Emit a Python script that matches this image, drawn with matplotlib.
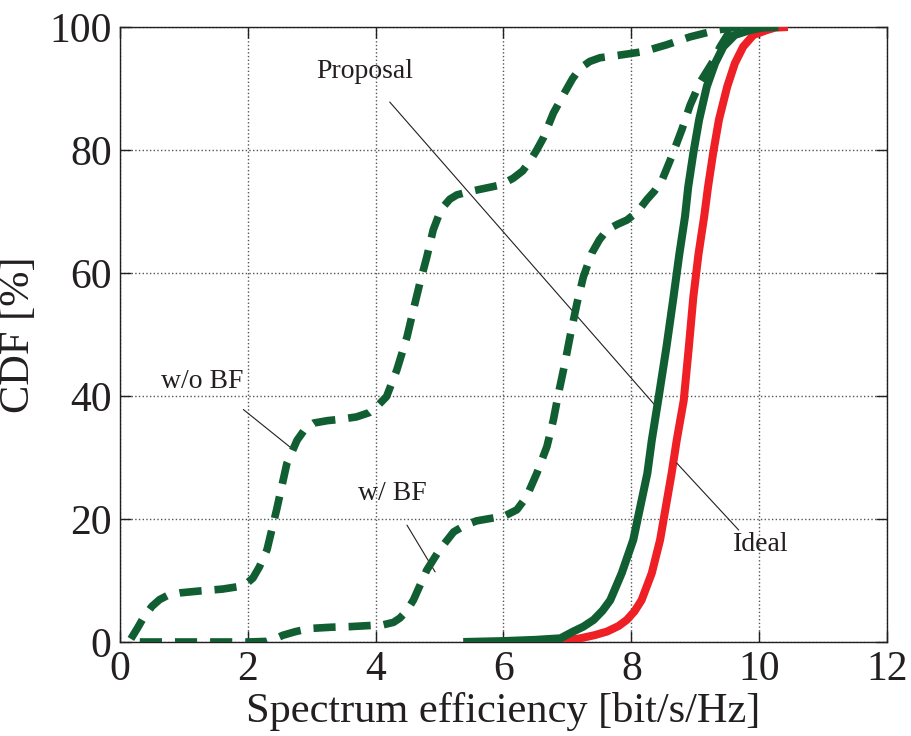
import matplotlib
matplotlib.use("Agg")
import matplotlib.pyplot as plt

plt.rcParams['font.family'] = ['Liberation Serif', 'DejaVu Serif']

# ---- data ----
wo_bf_x = [0.17, 0.27, 0.37, 0.50, 0.62, 0.75, 0.95, 1.25, 1.60, 1.85, 1.98, 2.08, 2.18, 2.30,
           2.45, 2.61, 2.77, 2.90, 3.03, 3.25, 3.44, 3.70, 3.90, 4.02, 4.17, 4.33, 4.49, 4.59,
           4.69, 4.80, 4.90, 4.98, 5.06, 5.16, 5.27, 5.45, 5.63, 5.95, 6.15, 6.30, 6.42, 6.52,
           6.62, 6.78, 6.96, 7.08, 7.20, 7.35, 7.51, 7.80, 8.19, 8.55, 8.92, 9.34, 9.60, 9.85]
wo_bf_y = [0.5, 2.2, 4.0, 5.8, 6.9, 7.6, 8.0, 8.3, 8.6, 9.0, 9.5, 10.4, 12.2, 15.0,
           21.5, 29.0, 32.8, 34.7, 35.6, 36.0, 36.2, 36.6, 37.3, 38.3, 39.9, 44.2, 49.6, 54.0,
           58.3, 62.6, 67.0, 69.2, 70.8, 72.0, 72.7, 73.2, 73.6, 74.3, 75.4, 76.6, 78.3, 80.0,
           81.9, 86.0, 89.4, 91.6, 93.3, 94.4, 95.0, 95.4, 96.0, 97.1, 98.4, 99.5, 99.9, 100.0]

w_bf_x = [0.31, 1.0, 2.0, 2.30, 2.42, 2.55, 2.75, 2.97, 3.30, 3.60, 4.12, 4.28, 4.38, 4.48,
          4.59, 4.80, 5.00, 5.22, 5.40, 5.58, 5.80, 6.00, 6.21, 6.36, 6.52, 6.68, 6.78, 6.86,
          6.96, 7.04, 7.15, 7.25, 7.38, 7.50, 7.62, 7.78, 7.93, 8.10, 8.24, 8.36, 8.48, 8.63,
          8.79, 8.92, 9.08, 9.26, 9.39, 9.55, 9.70, 9.90]
w_bf_y = [0.0, 0.0, 0.0, 0.1, 0.5, 1.1, 1.7, 2.2, 2.4, 2.5, 2.8, 3.2, 3.9, 5.0,
          6.8, 11.7, 15.0, 17.9, 19.0, 19.7, 20.1, 20.4, 21.5, 23.6, 27.4, 31.8, 36.1, 40.4,
          45.3, 49.6, 55.1, 59.4, 63.2, 65.4, 67.0, 67.9, 68.6, 70.0, 71.9, 73.3, 75.1, 78.9,
          83.3, 87.3, 91.1, 94.1, 96.8, 99.5, 99.8, 100.0]

prop_x = [5.37, 6.00, 6.50, 6.89, 7.09, 7.25, 7.41, 7.55, 7.67, 7.85, 8.03, 8.14, 8.25, 8.32,
          8.42, 8.55, 8.66, 8.75, 8.84, 8.89, 8.97, 9.06, 9.18, 9.31, 9.44, 9.62, 9.86, 10.05,
          10.30]
prop_y = [0.0, 0.15, 0.35, 0.6, 1.7, 2.5, 3.6, 5.1, 6.8, 11.2, 16.6, 22.0, 27.4, 32.8,
          39.3, 48.0, 56.1, 63.0, 69.2, 74.0, 79.5, 84.9, 90.3, 94.1, 96.8, 98.7, 99.5, 99.9,
          100.0]

ideal_x = [6.35, 6.89, 7.20, 7.42, 7.62, 7.80, 7.93, 8.05, 8.16, 8.32, 8.45, 8.54, 8.63, 8.71,
           8.82, 8.90, 8.97, 9.05, 9.14, 9.20, 9.28, 9.37, 9.50, 9.62, 9.75, 9.91, 10.12, 10.25,
           10.45]
ideal_y = [0.0, 0.1, 0.6, 1.1, 1.7, 2.6, 3.6, 5.0, 6.8, 11.2, 16.6, 22.0, 27.4, 32.8,
           39.3, 48.0, 56.1, 63.0, 69.2, 74.0, 79.5, 84.9, 90.3, 94.1, 96.8, 98.7, 99.5, 99.9,
           100.0]

x_ticks = [0, 2, 4, 6, 8, 10, 12]
y_ticks = [0, 20, 40, 60, 80, 100]

green = '#115e32'
red = '#ee2026'
ink = '#231f20'

fig = plt.figure(figsize=(9.12, 7.36), dpi=100)
ax = fig.add_axes([120 / 912, (736 - 642) / 736, 767 / 912, 615 / 736])

ax.plot(ideal_x, ideal_y, color=red, lw=5.8, solid_capstyle='butt',
        solid_joinstyle='round', zorder=3)
ax.plot(prop_x, prop_y, color=green, lw=5.8, solid_capstyle='butt',
        solid_joinstyle='round', zorder=4)
ax.plot(w_bf_x, w_bf_y, color=green, lw=5.5, dashes=(2.9, 1.7), dash_capstyle='butt',
        dash_joinstyle='round', zorder=4)
ax.plot(wo_bf_x, wo_bf_y, color=green, lw=5.5, dashes=(2.9, 1.7), dash_capstyle='butt',
        dash_joinstyle='round', zorder=4)

ax.set_xlim(0, 12)
ax.set_ylim(0, 100)
ax.set_xticks(x_ticks)
ax.set_yticks(y_ticks)
ax.grid(True, linestyle=':', color='#555555', lw=1.0)
ax.tick_params(direction='in', length=8, width=1, top=True, right=True,
               labelsize=30, pad=6, colors=ink)
for s in ax.spines.values():
    s.set_linewidth(1.0)
    s.set_color(ink)

ax.set_xlabel('Spectrum efficiency [bit/s/Hz]', fontsize=30.5, labelpad=2, color=ink)
ax.set_ylabel('CDF [%]', fontsize=30.5, labelpad=8, color=ink)

lkw = dict(arrowstyle='-', lw=0.8, color=ink, shrinkA=0, shrinkB=0)
ax.text(3.83, 92.8, 'Proposal', fontsize=20, color=ink, ha='center', va='center')
ax.annotate('', xy=(8.37, 38.5), xytext=(4.22, 87.8), arrowprops=lkw)
ax.annotate('', xy=(8.71, 29.1), xytext=(9.68, 18.2), arrowprops=lkw)
ax.text(10.03, 15.9, 'Ideal', fontsize=20, color=ink, ha='center', va='center')
ax.annotate('', xy=(2.66, 31.7), xytext=(1.93, 37.8), arrowprops=lkw)
ax.text(1.28, 42.4, 'w/o BF', fontsize=20, color=ink, ha='center', va='center')
ax.annotate('', xy=(4.93, 11.4), xytext=(4.49, 19.0), arrowprops=lkw)
ax.text(4.26, 24.2, 'w/ BF', fontsize=20, color=ink, ha='center', va='center')

fig.savefig('out.png', dpi=100)
